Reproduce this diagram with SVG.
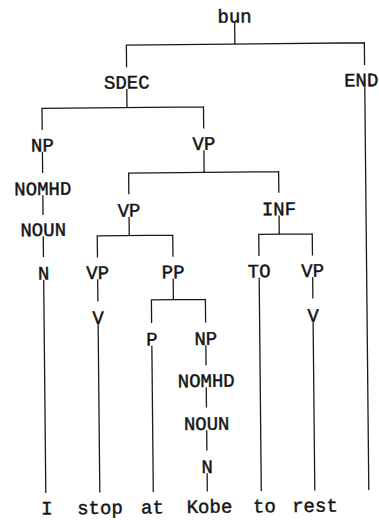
<svg xmlns="http://www.w3.org/2000/svg" width="379" height="520" viewBox="0 0 379 520">
  <style>
    .lbl { font-family: "Liberation Mono", "DejaVu Sans Mono", monospace; font-size: 19px; fill: #141414; stroke: #141414; stroke-width: 0.45; text-anchor: middle; }
    .edge { fill: none; stroke: #1a1a1a; stroke-width: 1.3; stroke-linecap: square; }
  </style>
  <rect width="379" height="520" fill="#ffffff"/>
  <!-- the whole tree sits slightly tilted on the page -->
  <g transform="rotate(-0.57 190 260)">
    <g id="connectors" class="edge">
      <!-- bun -> SDEC, END -->
      <path d="M237 23.5V44.5M128.5 44.5H366.5M128.5 44.5V66M366.5 44.5V66"/>
      <!-- SDEC -> NP, VP -->
      <path d="M128.5 89V107M43.5 107H205M43.5 107V128M205 107V128"/>
      <!-- NP chain -->
      <path d="M43.5 151V171M43.5 194.5V213M43.5 235.5V255M43.5 279V491"/>
      <!-- VP -> VP, INF -->
      <path d="M205 151V172.5M129.5 172.5H279.5M129.5 172.5V193M279.5 172.5V193"/>
      <!-- VP -> VP, PP -->
      <path d="M129.5 217V235M97.5 235H173M97.5 235V256M173 235V256"/>
      <!-- INF -> TO, VP -->
      <path d="M279.5 217V235M259 235H312.5M259 235V256M312.5 235V256"/>
      <!-- VP -> V -> stop -->
      <path d="M97.5 279V300M97.5 324V491"/>
      <!-- PP -> P, NP -->
      <path d="M173 279V299.5M151 299.5H205M151 299.5V322M205 299.5V322"/>
      <!-- P -> at -->
      <path d="M151 346V491"/>
      <!-- NP chain -> Kobe -->
      <path d="M205 346V365M205 388V407M205 431V450M205 474V491"/>
      <!-- TO -> to -->
      <path d="M259 279V491"/>
      <!-- VP -> V -> rest -->
      <path d="M312.5 279V299M312.5 324V491"/>
      <!-- END -->
      <path d="M366.5 89V491"/>
    </g>

    <g id="n-bun"><text class="lbl" x="237" y="23">bun</text></g>
    <g id="n-sdec"><text class="lbl" x="128.5" y="88">SDEC</text></g>
    <g id="n-end"><text class="lbl" x="363" y="88">END</text></g>
    <g id="n-np1"><text class="lbl" x="43.5" y="150">NP</text></g>
    <g id="n-vp1"><text class="lbl" x="205" y="150">VP</text></g>
    <g id="n-nomhd1"><text class="lbl" x="43.5" y="193.5">NOMHD</text></g>
    <g id="n-vp2"><text class="lbl" x="129.5" y="216">VP</text></g>
    <g id="n-inf"><text class="lbl" x="279.5" y="216">INF</text></g>
    <g id="n-noun1"><text class="lbl" x="43.5" y="234.5">NOUN</text></g>
    <g id="n-n1"><text class="lbl" x="43.5" y="278">N</text></g>
    <g id="n-vp3"><text class="lbl" x="97.5" y="278">VP</text></g>
    <g id="n-pp"><text class="lbl" x="173" y="278">PP</text></g>
    <g id="n-to"><text class="lbl" x="259" y="278">TO</text></g>
    <g id="n-vp4"><text class="lbl" x="312.5" y="278">VP</text></g>
    <g id="n-v1"><text class="lbl" x="97.5" y="323">V</text></g>
    <g id="n-v2"><text class="lbl" x="312.5" y="323">V</text></g>
    <g id="n-p"><text class="lbl" x="151" y="345">P</text></g>
    <g id="n-np2"><text class="lbl" x="205" y="345">NP</text></g>
    <g id="n-nomhd2"><text class="lbl" x="205" y="387">NOMHD</text></g>
    <g id="n-noun2"><text class="lbl" x="205" y="430">NOUN</text></g>
    <g id="n-n2"><text class="lbl" x="205" y="473">N</text></g>

    <g id="w-i"><text class="lbl" x="44.5" y="513">I</text></g>
    <g id="w-stop"><text class="lbl" x="97.5" y="513">stop</text></g>
    <g id="w-at"><text class="lbl" x="150" y="513">at</text></g>
    <g id="w-kobe"><text class="lbl" x="207" y="513">Kobe</text></g>
    <g id="w-to"><text class="lbl" x="262" y="513">to</text></g>
    <g id="w-rest"><text class="lbl" x="312.5" y="513">rest</text></g>
  </g>
</svg>
